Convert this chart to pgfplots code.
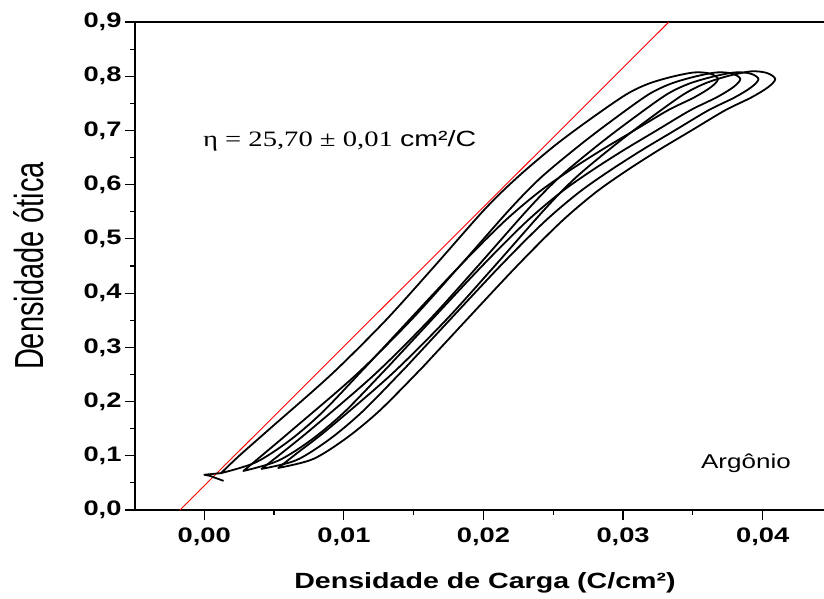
\documentclass[border=0pt]{standalone}
\usepackage{fontspec}
\setmainfont{Liberation Sans}[FakeStretch=1.3]
\newfontfamily\serifwide{Liberation Serif}[FakeStretch=1.3]
\newfontfamily\sansplain{Liberation Sans}
\usepackage{graphicx}
\usepackage{pgfplots}
\pgfplotsset{compat=1.18}

\begin{document}
\begin{tikzpicture}
\begin{axis}[
  scale only axis,
  width=700bp, height=488bp,
  xmin=-0.004964, xmax=0.04518,
  ymin=0, ymax=0.9,
  axis line style={line width=1.3bp},
  tick pos=left, tick align=outside,
  major tick length=10bp, minor tick length=5bp,
  every tick/.style={black, line width=1.2bp},
  xtick={0,0.01,0.02,0.03,0.04},
  ytick={0,0.1,0.2,0.3,0.4,0.5,0.6,0.7,0.8,0.9},
  minor x tick num=1, minor y tick num=1,
  scaled x ticks=false, scaled y ticks=false,
  tick label style={font=\bfseries\fontsize{21bp}{25bp}\selectfont},
  xticklabel style={yshift=-4bp, /pgf/number format/.cd, fixed, fixed zerofill, precision=2, use comma, assume math mode=true},
  yticklabel style={/pgf/number format/.cd, fixed, fixed zerofill, precision=1, use comma, assume math mode=true},
  xlabel={Densidade de Carga (C/cm²)},
  xlabel style={font=\bfseries\fontsize{22bp}{26bp}\selectfont, inner sep=0pt},
  xlabel shift=24bp,
  ylabel={\sansplain\fontsize{29bp}{34bp}\selectfont\scalebox{1}[1.4]{Densidade ótica}},
  ylabel style={inner sep=0pt},
  ylabel shift=36bp,
  every axis plot/.append style={line join=round, line cap=round},
]
% linear fit, eta = 25.70 cm^2/C
\addplot[red, line width=0.9bp] coordinates {(-0.00174,0) (0.03328,0.9)};

% cycle 1 (with the initial hook)
\addplot[black, line width=1.8bp] coordinates {(0.0012,0.068) (0.0000,0.065) (0.0004,0.063) (0.00135,0.054)};
\addplot[black, line width=1.8bp, smooth, tension=0.5] coordinates {
  (0.0012,0.068) (0.0037,0.088) (0.0061,0.128) (0.00845,0.180) (0.0113,0.257)
  (0.0125,0.290) (0.0180,0.442) (0.0214,0.530) (0.0239,0.585) (0.0261,0.625)
  (0.0284,0.663) (0.0308,0.700) (0.0332,0.737) (0.0351,0.761) (0.0363,0.780)
  (0.0368,0.795) (0.0362,0.805) (0.0351,0.807) (0.0335,0.799) (0.0318,0.786)
  (0.0302,0.766) (0.0276,0.720) (0.0251,0.672) (0.02245,0.614) (0.0201,0.555)
  (0.0165,0.450) (0.0130,0.350) (0.0091,0.250) (0.0047,0.150) (0.0025,0.100)
  (0.0012,0.068)};

% cycle 2
\addplot[black, line width=1.8bp, smooth, tension=0.5] coordinates {
  (0.0028,0.072) (0.0053,0.091) (0.0077,0.130) (0.01005,0.181) (0.0129,0.257)
  (0.0141,0.290) (0.0196,0.442) (0.0230,0.530) (0.0255,0.585) (0.0277,0.625)
  (0.0300,0.663) (0.0324,0.700) (0.0348,0.737) (0.0367,0.761) (0.0379,0.780)
  (0.0384,0.795) (0.0378,0.805) (0.0367,0.807) (0.0351,0.799) (0.0334,0.786)
  (0.0318,0.766) (0.0294,0.722) (0.0270,0.675) (0.02415,0.614) (0.0219,0.555)
  (0.0183,0.450) (0.0148,0.350) (0.0109,0.250) (0.0064,0.150) (0.0041,0.100)
  (0.0028,0.072)};

% cycle 3
\addplot[black, line width=1.8bp, smooth, tension=0.5] coordinates {
  (0.0041,0.0758) (0.0066,0.092) (0.0090,0.131) (0.01135,0.182) (0.0142,0.257)
  (0.0154,0.290) (0.0209,0.442) (0.0243,0.530) (0.0268,0.585) (0.0290,0.625)
  (0.0313,0.663) (0.0337,0.700) (0.0361,0.737) (0.0380,0.761) (0.0392,0.780)
  (0.0397,0.795) (0.0391,0.805) (0.0380,0.807) (0.0364,0.799) (0.0347,0.786)
  (0.0331,0.766) (0.0307,0.722) (0.0283,0.675) (0.02545,0.614) (0.0232,0.555)
  (0.0196,0.450) (0.0161,0.350) (0.0122,0.250) (0.0077,0.150) (0.0054,0.102)
  (0.0041,0.0758)};

% cycle 4
\addplot[black, line width=1.8bp, smooth, tension=0.5] coordinates {
  (0.0053,0.0776) (0.0078,0.094) (0.0102,0.133) (0.01255,0.183) (0.0154,0.257)
  (0.0166,0.290) (0.0221,0.442) (0.0255,0.530) (0.0280,0.585) (0.0302,0.625)
  (0.0325,0.663) (0.0349,0.700) (0.0373,0.737) (0.0392,0.761) (0.0404,0.780)
  (0.0409,0.795) (0.0403,0.806) (0.0392,0.809) (0.0376,0.801) (0.0359,0.787)
  (0.0343,0.766) (0.0319,0.722) (0.0295,0.675) (0.02665,0.614) (0.0244,0.555)
  (0.0208,0.450) (0.0173,0.350) (0.0134,0.250) (0.0089,0.150) (0.0066,0.104)
  (0.0053,0.0776)};

\node[anchor=base west, inner sep=0pt, font=\fontsize{22bp}{26bp}\selectfont]
  at (axis cs:-0.0001,0.6696) {\serifwide η = 25,70 ± 0,01 \normalfont cm²/C};
\node[anchor=base, inner sep=0pt, font=\fontsize{20bp}{24bp}\selectfont]
  at (axis cs:0.0388,0.0758) {Argônio};
\end{axis}
\pgfresetboundingbox
\path[use as bounding box]
  ([xshift=-135bp,yshift=-89bp]current axis.south west)
  rectangle ([xshift=689bp,yshift=22bp]current axis.north west);
\end{tikzpicture}
\end{document}
